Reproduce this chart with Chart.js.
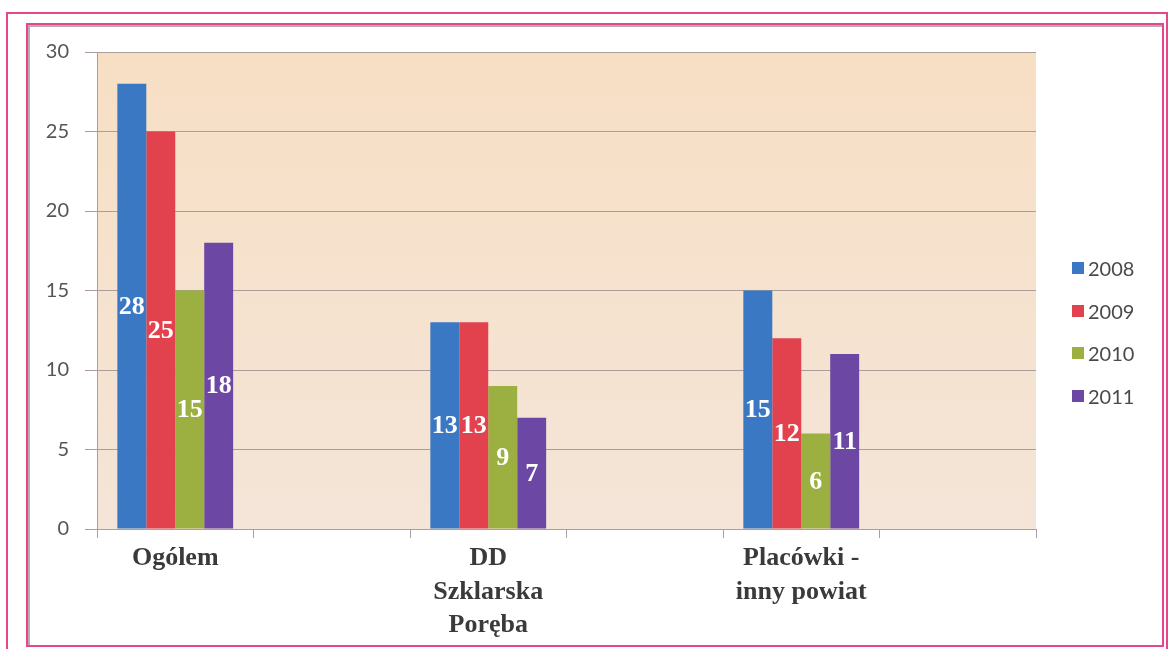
<!DOCTYPE html>
<html>
<head>
<meta charset="utf-8">
<script src="https://cdn.jsdelivr.net/npm/chart.js@4.4.0/dist/chart.umd.min.js"></script>
<style>
  html, body { margin: 0; padding: 0; background: #fff; }
  #wrap { position: relative; width: 1168px; height: 649px; overflow: hidden; background: #fff; }
  .frameOuter { position: absolute; left: 6px; top: 12px; width: 1158px; height: 645px; border: 2px solid #e6478a; }
  .frameInner { position: absolute; left: 26px; top: 23px; width: 1134px; height: 620px; border: 2px solid #e6478a;
                box-shadow: inset 2px 2px 0 #b9aab8; }
  #chartBox { position: absolute; left: 0; top: 0; width: 1168px; height: 649px; }
  #legend { position: absolute; left: 1072px; top: 247px; font-family: Lato, sans-serif; font-size: 20px; color: #4a4a4a; }
  #legend div { height: 42.6px; display: flex; align-items: center; }
  #legend span.box { display: inline-block; width: 12px; height: 12px; margin-right: 4px; }
</style>
</head>
<body>
<div id="wrap">
  <div class="frameOuter"></div>
  <div class="frameInner"></div>
  <div id="chartBox"><canvas id="chart"></canvas></div>
  <div id="legend"></div>
</div>
<script>
// categories (empty slots sit between the groups, as in the original sheet)
const categories = ['Ogólem', '', ['DD', 'Szklarska', 'Poręba'], '', ['Placówki -', 'inny powiat'], ''];
const years = ['2008', '2009', '2010', '2011'];

const values2008 = [28, null, 13, null, 15, null];
const values2009 = [25, null, 13, null, 12, null];
const values2010 = [15, null, 9, null, 6, null];
const values2011 = [18, null, 7, null, 11, null];

const yTicks = [0, 5, 10, 15, 20, 25, 30];

const barColors = ['#3a78c4', '#e2424e', '#9bb040', '#6c48a4'];

// beige plot background
const plotBackground = {
    id: 'plotBackground',
    beforeDraw(chart) {
        const { ctx, chartArea } = chart;
        const grad = ctx.createLinearGradient(0, chartArea.top, 0, chartArea.bottom);
        grad.addColorStop(0, '#f7dfc4');
        grad.addColorStop(1, '#f4e5d8');
        ctx.save();
        ctx.fillStyle = grad;
        ctx.fillRect(chartArea.left, chartArea.top, chartArea.right - chartArea.left, chartArea.bottom - chartArea.top);
        ctx.restore();
    }
};

// white value labels in the middle of each bar
const valueLabels = {
    id: 'valueLabels',
    afterDatasetsDraw(chart) {
        const ctx = chart.ctx;
        ctx.save();
        ctx.font = 'bold 26px "Liberation Serif", serif';
        ctx.fillStyle = '#ffffff';
        ctx.textAlign = 'center';
        ctx.textBaseline = 'middle';
        chart.data.datasets.forEach((ds, i) => {
            chart.getDatasetMeta(i).data.forEach((bar, j) => {
                const v = ds.data[j];
                if (v === null || v === undefined) return;
                const p = bar.getProps(['x', 'y', 'base'], true);
                ctx.fillText(String(v), p.x, (p.y + p.base) / 2 + 1);
            });
        });
        ctx.restore();
    }
};

const seriesValues = [values2008, values2009, values2010, values2011];

const chart = new Chart(document.getElementById('chart'), {
    type: 'bar',
    data: {
        labels: categories,
        datasets: years.map((y, i) => ({
            label: y,
            data: seriesValues[i],
            backgroundColor: barColors[i],
            categoryPercentage: 0.74,
            barPercentage: 1.0
        }))
    },
    options: {
        responsive: true,
        maintainAspectRatio: false,
        animation: false,
        layout: { padding: { left: 37, top: 52, right: 132, bottom: 0 } },
        plugins: {
            legend: { display: false },
            tooltip: { enabled: false }
        },
        scales: {
            x: {
                afterFit(scale) { scale.height = 120; },
                grid: { offset: true, drawOnChartArea: false, tickLength: 9, color: '#a3a0ab' },
                border: { color: '#a3a0ab' },
                ticks: {
                    autoSkip: false,
                    maxRotation: 0,
                    padding: 4,
                    color: '#3a3a3a',
                    font: { family: '"Liberation Serif", serif', size: 26, weight: 'bold', lineHeight: 1.28 }
                }
            },
            y: {
                min: 0,
                max: 30,
                afterFit(scale) { scale.width = 60; },
                afterBuildTicks(scale) { scale.ticks = yTicks.map(v => ({ value: v })); },
                grid: { color: '#ab9d9b', tickLength: 12 },
                border: { color: '#a3a0ab' },
                ticks: {
                    padding: 16,
                    color: '#555555',
                    font: { family: 'Lato, sans-serif', size: 20 }
                }
            }
        }
    },
    plugins: [plotBackground, valueLabels]
});

// legend built from the chart's datasets
const legendEl = document.getElementById('legend');
chart.data.datasets.forEach(ds => {
    const row = document.createElement('div');
    const box = document.createElement('span');
    box.className = 'box';
    box.style.background = ds.backgroundColor;
    row.appendChild(box);
    row.appendChild(document.createTextNode(ds.label));
    legendEl.appendChild(row);
});
</script>
</body>
</html>
